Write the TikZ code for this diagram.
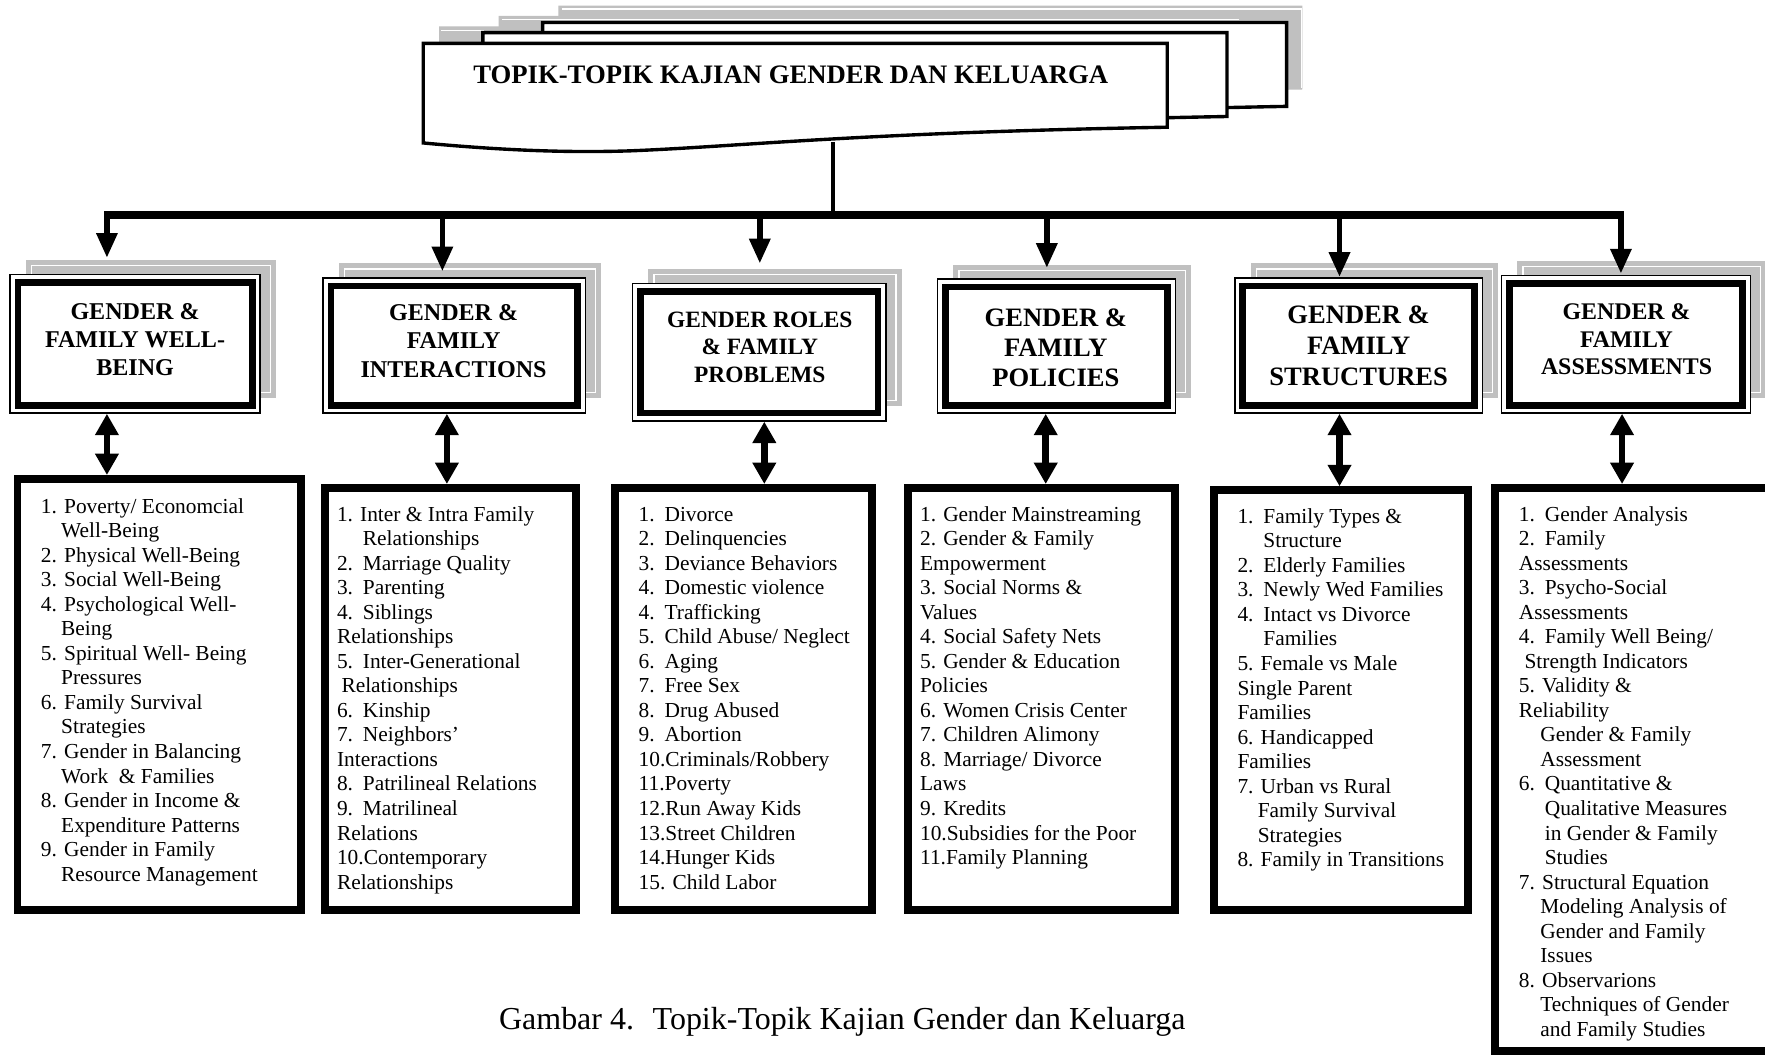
\documentclass[tikz,border=0pt]{standalone}
\usepackage{fontspec}
\setmainfont{Liberation Serif}
\usetikzlibrary{arrows.meta,fit,calc}
\definecolor{shadowgray}{HTML}{C0C0C0}
\newcommand\lb[1]{\makebox[11.5pt][l]{#1}}
\newcommand\docshape[1]{\path[#1] (376,38.5) -- (1037,38.5) -- (1037,113) .. controls (760,118) and (660,130) .. (560,134) .. controls (500,136) and (440,133) .. (376,127) -- cycle;}
\newcommand\hdrbox[9]{%
  \fill[shadowgray] (#2+14,#3-13) rectangle (#4+14,#5-13);
  \draw[white, line width=0.5pt] (#2+19,#3-8) rectangle (#4+9,#5-18);
  \node[fit={(#2,#3) (#4,#5)}, inner sep=0pt, draw, line width=0.6pt, fill=white] (#1) {};
  \draw[line width=3pt] (#2+7,#3+7) rectangle (#4-7,#5-7);
  \node[hdrtext, font={#8}] (#1t) at (#6,#7) {#9};
}
\newcommand\listbox[5]{%
  \node[fit={(#2+3.5,#3+3.5) (#4-3.5,#5-3.5)}, inner sep=0pt, draw, line width=3.5pt, fill=white] (#1) {};
}
\tikzset{
  hdrtext/.style={align=center, inner sep=0pt},
  listtext/.style={align=left, inner sep=0pt, anchor=north west, font=\fontsize{9.5}{10.9}\selectfont},
  droparrow/.style={line width=2.5pt, -{Triangle[width=9pt,length=11pt]}},
  dblarrow/.style={line width=3pt, {Triangle[width=10pt,length=9.5pt]}-{Triangle[width=10pt,length=9.5pt]}},
  docdraw/.style={fill=white, draw=black, line width=1.5pt},
  shadowline/.style={white, line width=0.5pt},
}
\begin{document}
\begin{tikzpicture}[x=0.5pt,y=-0.5pt]
\useasboundingbox (0,0) rectangle (1568,937);
\clip (0,0) rectangle (1568,937);
\fill[white] (0,0) rectangle (1568,937);

% ---- stacked document shapes: shadows first, then the sheets ----
\docshape{fill=shadowgray, shift={(120,-33.5)}}
\draw[shadowline] (499,8) -- (1156,8) -- (1156,78);
\docshape{fill=shadowgray, shift={(67,-24.5)}}
\draw[shadowline] (446,17) -- (1101,17);
\docshape{fill=shadowgray, shift={(14,-15)}}
\draw[shadowline] (392,27) -- (430,27);
\docshape{docdraw, shift={(106,-18.5)}}
\docshape{docdraw, shift={(53,-9.5)}}
\docshape{docdraw}
\node[anchor=base, inner sep=0pt, font=\fontsize{11.85}{14}\selectfont\bfseries] (title) at (702.5,74) {TOPIK-TOPIK KAJIAN GENDER DAN KELUARGA};

% ---- header boxes ----
\hdrbox{h1}{9}{244}{231}{367}{120}{302}{\fontsize{10.7}{12.5}\selectfont\bfseries}{GENDER \&\\FAMILY WELL-\\BEING}
\hdrbox{h2}{287}{247}{520}{367}{403}{303}{\fontsize{10.7}{12.5}\selectfont\bfseries}{GENDER \&\\FAMILY\\INTERACTIONS}
\hdrbox{h3}{562}{252}{787}{374}{675}{308.5}{\fontsize{10.4}{12.2}\selectfont\bfseries}{GENDER ROLES\\\& FAMILY\\PROBLEMS}
\hdrbox{h4}{833}{248}{1044}{367}{938}{309}{\fontsize{11.8}{13.5}\selectfont\bfseries}{GENDER \&\\FAMILY\\POLICIES}
\hdrbox{h5}{1097}{247}{1317}{367}{1207}{307.5}{\fontsize{11.8}{13.8}\selectfont\bfseries}{GENDER \&\\FAMILY\\STRUCTURES}
\hdrbox{h6}{1334}{245}{1555}{367}{1445}{301.5}{\fontsize{10.6}{12.3}\selectfont\bfseries}{GENDER \&\\FAMILY\\ASSESSMENTS}

% ---- connectors from title ----
\coordinate (stem) at (740,126);
\coordinate (busmid) at (740,191);
\coordinate (busL) at (92.5,191);
\coordinate (busR) at (1442.5,191);
\draw[line width=2pt] (stem) -- (busmid);
\draw[line width=3.2pt] (busL) -- (busR);
\foreach \i/\x/\t in {1/95/229, 2/393/241, 3/675/234, 4/930/238, 5/1190/246, 6/1440/243}{
  \coordinate (d\i) at (\x,189);
  \coordinate (t\i) at (\x,\t);
  \draw[droparrow] (d\i) -- (t\i);
}

% ---- list boxes ----
\listbox{l1}{12}{422}{271}{812}
\listbox{l2}{285}{430}{515}{812}
\listbox{l3}{543}{430}{778}{812}
\listbox{l4}{803}{430}{1047}{812}
\listbox{l5}{1075}{432}{1308}{812}
\listbox{l6}{1325}{430}{1590}{937}

% ---- double arrows ----
\foreach \i/\x in {1/95, 2/397, 3/679, 4/929, 5/1190, 6/1441}{
  \coordinate (a\i) at (\x,0);
  \draw[dblarrow] (h\i.south -| a\i) -- (l\i.north -| a\i);
}

% ---- list texts ----
\node[listtext] (l1t) at (36,440.2) {\strut 1. Poverty/ Economcial\\
\hspace*{9pt}Well-Being\\
2. Physical Well-Being\\
3. Social Well-Being\\
4. Psychological Well-\\
\hspace*{9pt}Being\\
5. Spiritual Well- Being\\
\hspace*{9pt}Pressures\\
6. Family Survival\\
\hspace*{9pt}Strategies\\
7. Gender in Balancing\\
\hspace*{9pt}Work~ \& Families\\
8. Gender in Income \&\\
\hspace*{9pt}Expenditure Patterns\\
9. Gender in Family\\
\hspace*{9pt}Resource Management};

\node[listtext] (l2t) at (299,447.2) {\strut 1. Inter \& Intra Family\\
\hspace*{11.5pt}Relationships\\
\lb{2.}Marriage Quality\\
\lb{3.}Parenting\\
\lb{4.}Siblings\\
Relationships\\
\lb{5.}Inter-Generational\\
\hspace*{2pt}Relationships\\
\lb{6.}Kinship\\
\lb{7.}Neighbors’\\
Interactions\\
\lb{8.}Patrilineal Relations\\
\lb{9.}Matrilineal\\
Relations\\
10.Contemporary\\
Relationships};

\node[listtext] (l3t) at (567,447.2) {\strut\lb{1.}Divorce\\
\lb{2.}Delinquencies\\
\lb{3.}Deviance Behaviors\\
\lb{4.}Domestic violence\\
\lb{4.}Trafficking\\
\lb{5.}Child Abuse/ Neglect\\
\lb{6.}Aging\\
\lb{7.}Free Sex\\
\lb{8.}Drug Abused\\
\lb{9.}Abortion\\
10.Criminals/Robbery\\
11.Poverty\\
12.Run Away Kids\\
13.Street Children\\
14.Hunger Kids\\
15. Child Labor};

\node[listtext] (l4t) at (817,447.2) {\strut 1. Gender Mainstreaming\\
2. Gender \& Family\\
Empowerment\\
3. Social Norms \&\\
Values\\
4. Social Safety Nets\\
5. Gender \& Education\\
Policies\\
6. Women Crisis Center\\
7. Children Alimony\\
8. Marriage/ Divorce\\
Laws\\
9. Kredits\\
10.Subsidies for the Poor\\
11.Family Planning};

\node[listtext] (l5t) at (1099,449.2) {\strut\lb{1.}Family Types \&\\
\hspace*{11.5pt}Structure\\
\lb{2.}Elderly Families\\
\lb{3.}Newly Wed Families\\
\lb{4.}Intact vs Divorce\\
\hspace*{11.5pt}Families\\
5. Female vs Male\\
Single Parent\\
Families\\
6. Handicapped\\
Families\\
7. Urban vs Rural\\
\hspace*{9pt}Family Survival\\
\hspace*{9pt}Strategies\\
8. Family in Transitions};

\node[listtext] (l6t) at (1349,447.2) {\strut\lb{1.}Gender Analysis\\
\lb{2.}Family\\
Assessments\\
\lb{3.}Psycho-Social\\
Assessments\\
\lb{4.}Family Well Being/\\
\hspace*{2.5pt}Strength Indicators\\
5. Validity \&\\
Reliability\\
\hspace*{9.5pt}Gender \& Family\\
\hspace*{9.5pt}Assessment\\
\lb{6.}Quantitative \&\\
\hspace*{11.5pt}Qualitative Measures\\
\hspace*{11.5pt}in Gender \& Family\\
\hspace*{11.5pt}Studies\\
7. Structural Equation\\
\hspace*{9.5pt}Modeling Analysis of\\
\hspace*{9.5pt}Gender and Family\\
\hspace*{9.5pt}Issues\\
8. Observarions\\
\hspace*{9.5pt}Techniques of Gender\\
\hspace*{9.5pt}and Family Studies};

% ---- caption ----
\node[anchor=base west, inner sep=0pt, font=\fontsize{14.2}{17}\selectfont] (caption) at (443,915) {Gambar 4.~ Topik-Topik Kajian Gender dan Keluarga};
\end{tikzpicture}
\end{document}
